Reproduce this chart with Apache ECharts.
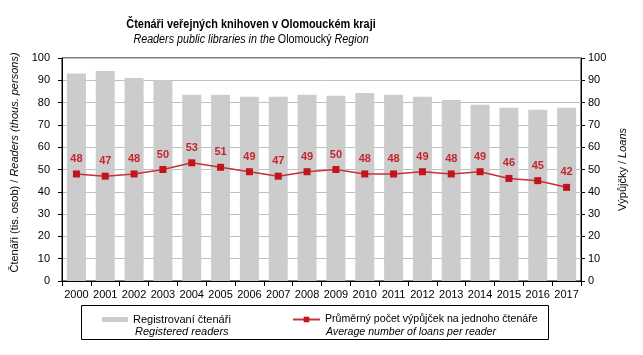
<!DOCTYPE html>
<html><head><meta charset="utf-8">
<script src="https://cdn.jsdelivr.net/npm/echarts@6/dist/echarts.min.js"></script>
<style>html,body{margin:0;padding:0;background:#fff}#c{width:643px;height:355px}</style>
</head><body><div id="c"></div>
<script>
const years = ['2000','2001','2002','2003','2004','2005','2006','2007','2008','2009','2010','2011','2012','2013','2014','2015','2016','2017'];
const readers = [93.0,94.2,91.0,90.0,83.5,83.5,82.6,82.6,83.5,83.1,84.3,83.5,82.6,81.2,79.0,77.7,76.8,77.7];
const loansPerReader = [48,47,48,50,53,51,49,47,49,50,48,48,49,48,49,46,45,42];
const leftTicks = {min:0,max:100,interval:10};
const rightTicks = {min:0,max:100,interval:10};
const seriesNames = ['Registrovaní čtenáři','Průměrný počet výpůjček na jednoho čtenáře'];
const seriesNamesEn = ['Registered readers','Average number of loans per reader'];

const F = "'Liberation Sans', Arial, sans-serif";
const chart = echarts.init(document.getElementById('c'), null, {renderer:'canvas'});
chart.setOption({
  animation:false,
  textStyle:{fontFamily:F,color:'#000'},
  grid:{left:62,right:62,top:58,bottom:74,show:true,borderColor:'#000',borderWidth:1,backgroundColor:'transparent'},
  graphic:[
    {type:'text',x:251,y:24,scaleX:0.84,style:{text:'Čtenáři veřejných knihoven v Olomouckém kraji',font:"bold 13px "+F,fill:'#000',textAlign:'center',textVerticalAlign:'middle'}},
    {type:'text',x:251,y:40,scaleX:0.895,style:{text:'{i|Readers public libraries in the }{n|Olomoucký}{i| Region}',textAlign:'center',textVerticalAlign:'middle',fill:'#000',
      rich:{i:{fontFamily:F,fontSize:12,fontStyle:'italic',fill:'#000'},n:{fontFamily:F,fontSize:12,fill:'#000'}}}},
    {type:'rect',shape:{x:81.5,y:305.5,width:467,height:34},style:{fill:'none',stroke:'#000',lineWidth:1}},
    {type:'text',x:135,y:332,style:{text:seriesNamesEn[0],font:"italic 11px "+F,fill:'#000',textVerticalAlign:'middle'}},
    {type:'text',x:326,y:332,style:{text:seriesNamesEn[1],font:"italic 10.6px "+F,fill:'#000',textVerticalAlign:'middle'}}
  ],
  legend:[
    {data:[seriesNames[0]],left:102,top:314,padding:0,itemWidth:26,itemHeight:5,itemGap:0,icon:'rect',
     textStyle:{fontFamily:F,fontSize:11,color:'#000'}},
    {data:[seriesNames[1]],left:292,top:314,padding:0,itemWidth:27,itemHeight:7,itemGap:0,
     textStyle:{fontFamily:F,fontSize:10.6,color:'#000'}}
  ],
  xAxis:{type:'category',data:years,boundaryGap:true,
    axisLine:{lineStyle:{color:'#000',width:1}},
    axisTick:{show:true,alignWithLabel:false,length:5,lineStyle:{color:'#000'}},
    axisLabel:{fontSize:11,color:'#000',margin:8,fontFamily:F,interval:0}},
  yAxis:[
    {type:'value',min:leftTicks.min,max:leftTicks.max,interval:leftTicks.interval,
     name:'{n|Čtenáři (tis. osob) / }{i|Readers (thous. persons)}',nameLocation:'middle',nameGap:31,nameRotate:90,
     nameTextStyle:{padding:[0,0,0,14],rich:{n:{fontFamily:F,fontSize:11,color:'#000'},i:{fontFamily:F,fontSize:11,fontStyle:'italic',color:'#000'}}},
     axisLine:{show:true,lineStyle:{color:'#000'}},axisTick:{show:true,length:4,lineStyle:{color:'#000'}},
     axisLabel:{fontSize:11,color:'#000',margin:12},
     splitLine:{show:true,lineStyle:{color:'#BFBFBF',width:1}}},
    {type:'value',min:rightTicks.min,max:rightTicks.max,interval:rightTicks.interval,position:'right',
     name:'{n|Výpůjčky / }{i|Loans}',nameLocation:'middle',nameGap:31,nameRotate:90,
     nameTextStyle:{rich:{n:{fontFamily:F,fontSize:11,color:'#000'},i:{fontFamily:F,fontSize:11,fontStyle:'italic',color:'#000'}}},
     axisLine:{show:true,lineStyle:{color:'#000'}},axisTick:{show:true,length:4,lineStyle:{color:'#000'}},
     axisLabel:{fontSize:11,color:'#000',margin:7},
     splitLine:{show:false}}
  ],
  series:[
    {name:seriesNames[0],type:'bar',data:readers,yAxisIndex:0,barWidth:19,itemStyle:{color:'#CCCCCC'}},
    {name:seriesNames[1],type:'line',data:loansPerReader,yAxisIndex:1,symbol:'rect',symbolSize:7,
     lineStyle:{color:'#C8303A',width:1.5},itemStyle:{color:'#C0141E'},
     label:{show:true,position:'top',distance:6,color:'#C3262E',fontWeight:'bold',fontSize:11,fontFamily:F}}
  ]
});
</script></body></html>
